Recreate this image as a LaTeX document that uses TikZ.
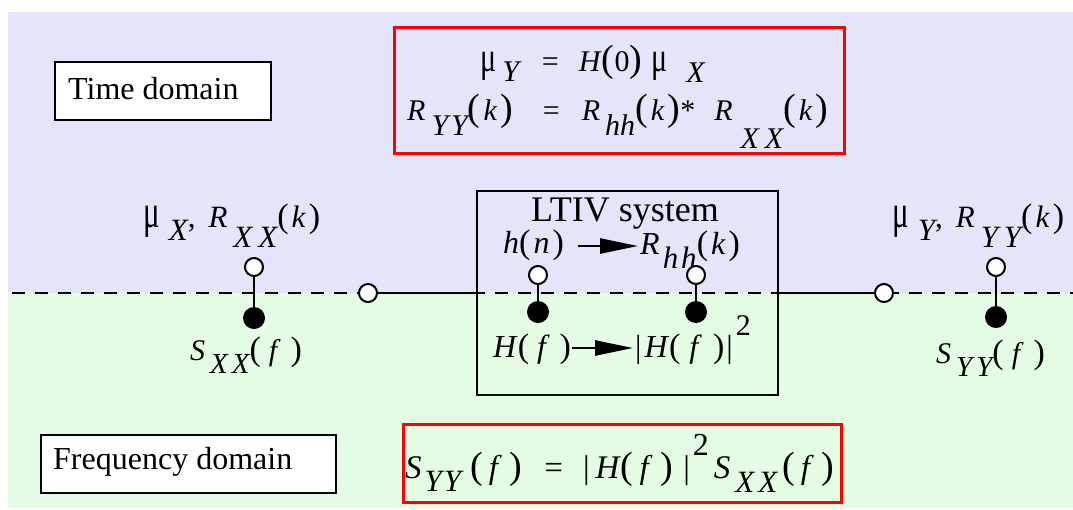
\documentclass[tikz,border=0pt]{standalone}
\usepackage{fontspec}
\usepackage{graphicx}
\setmainfont{Liberation Serif}
\usetikzlibrary{arrows.meta,calc}
\definecolor{lav}{RGB}{228,228,250}
\definecolor{lgreen}{RGB}{228,252,228}
\newcommand{\fs}[1]{\fontsize{#1}{#1}\selectfont}
\newcommand{\lsub}[3]{\raisebox{-#1pt}{\fontsize{#2}{#2}\selectfont\itshape #3}}
\newcommand{\Lp}[1]{{\fontsize{#1}{#1}\selectfont(}}
\newcommand{\Rp}[1]{{\fontsize{#1}{#1}\selectfont)}}
\newcommand{\hs}[1]{\hspace{#1pt}}
\newcommand{\mmu}[1]{\scalebox{1}[#1]{μ}}
\begin{document}
\begin{tikzpicture}[x=1pt,y=-1pt,
 box/.style={draw=black, line width=2.5pt, fill=white, inner sep=0pt},
 redbox/.style={draw=red, line width=3pt, inner sep=0pt},
 sysbox/.style={draw=black, line width=2.5pt, inner sep=0pt},
 lbl/.style={inner sep=0pt, anchor=base west},
 opn/.style={circle, draw, line width=2pt, fill=white, minimum size=18pt, inner sep=0pt},
 fil/.style={circle, fill=black, minimum size=22pt, inner sep=0pt},
 wire/.style={line width=2.5pt},
 stem/.style={line width=2pt},
 arr/.style={line width=2.5pt, -{Triangle[length=38pt,width=15pt]}}
]
\useasboundingbox (0,0) rectangle (1073,509);
\fill[white] (0,0) rectangle (1073,509);
\fill[lav] (8,12) rectangle (1073,293);
\fill[lgreen] (8,293) rectangle (1073,508);
\draw[dash pattern=on 13pt off 10pt, line width=1.5pt] (12,293) -- (1073,293);

% domain boxes
\node[box, minimum width=216pt, minimum height=58pt] (tdbox) at (163,91) {};
\node[lbl] (tdtext) at (68,99) {\fs{32}Time domain};
\node[box, minimum width=295pt, minimum height=58pt] (fdbox) at (188.5,464) {};
\node[lbl] (fdtext) at (53,469) {\fs{32}Frequency domain};

% red formula boxes
\node[redbox, minimum width=450pt, minimum height=126pt] (eqbox) at (619,90) {};
\node[lbl] (eq1) at (480,71) {\fs{30}\mmu{1.4}\hs{6}\lsub{10}{30}{Y}\hs{23}=\hs{20}\textit{H}\Lp{38}0\Rp{38}\hs{9}\mmu{1.4}\hs{19}\lsub{11}{30}{X}};
\node[lbl] (eq2) at (407,120) {\fs{30}\textit{R}\hs{6}\lsub{15}{30}{Y\hs{3}Y}\Lp{38}\hs{3}\textit{k}\hs{3}\Rp{38}\hs{30}=\hs{22}\textit{R}\hs{5}\lsub{15}{30}{hh}\Lp{38}\hs{3}\textit{k}\hs{3}\Rp{38}*\hs{19}\textit{R}\hs{8}\lsub{28}{30}{X\hs{6}X}\Lp{38}\hs{3}\textit{k}\hs{3}\Rp{38}};
\node[redbox, minimum width=438pt, minimum height=78pt] (eqfbox) at (622,463) {};
\node[lbl] (eq3) at (405,478) {\fs{33}\textit{S}\hs{3}\lsub{13}{31}{Y\hs{2}Y}\hs{9}\Lp{38}\hs{6}\textit{f}\hs{8}\Rp{38}\hs{22}=\hs{20}|\hs{6}\textit{H}\Lp{38}\hs{6}\textit{f}\hs{8}\Rp{38}\hs{10}|\hs{3}\raisebox{23pt}{\fs{32}2}\hs{5}\textit{S}\hs{5}\lsub{14}{31}{X\hs{4}X}\hs{5}\Lp{38}\hs{6}\textit{f}\hs{8}\Rp{38}};

% system box
\node[sysbox, minimum width=301pt, minimum height=204pt] (sys) at (627.5,293) {};
\node[inner sep=0pt, anchor=base] (systitle) at (625,221) {\fs{36}LTIV system};
\node[lbl] (hn) at (503,253) {\fs{32}\textit{h}\Lp{34}\hs{3}\textit{n}\hs{3}\Rp{34}};
\node[lbl] (Rhh) at (640,254) {\fs{32}\textit{R}\hs{3}\lsub{14}{31}{h\hs{3}h}\Lp{34}\hs{3}\textit{k}\hs{3}\Rp{34}};
\draw[arr] ($(hn.base east)+(14,-7)$) -- ($(Rhh.base west)+(-2,-8)$);
\node[lbl] (Hf) at (493,357) {\fs{32}\textit{H}\Lp{34}\hs{8}\textit{f}\hs{10}\Rp{34}};
\node[lbl] (Hf2) at (635,357) {\fs{32}|\hs{3}\textit{H}\Lp{34}\hs{9}\textit{f}\hs{11}\Rp{34}\hs{2}|\hs{3}\raisebox{22pt}{\fs{30}2}};
\draw[arr] ($(Hf.base east)+(1,-9)$) -- ($(Hf2.base west)+(-2,-9)$);

% wires and ports
\node[opn] (inL) at (368,293) {};
\node[opn] (outR) at (884,293) {};
\draw[wire] (inL) -- (sys.west |- inL);
\draw[wire] (sys.east |- outR) -- (outR);

% stems
\node[opn] (xo) at (254,267) {};
\node[fil] (xf) at (254,318) {};
\draw[stem] (xo) -- (xf);
\node[opn] (ho) at (538,275) {};
\node[fil] (hf) at (538,312) {};
\draw[stem] (ho) -- (hf);
\node[opn] (ro) at (696,275) {};
\node[fil] (rf) at (696,312) {};
\draw[stem] (ro) -- (rf);
\node[opn] (yo) at (996,267) {};
\node[fil] (yf) at (996,317) {};
\draw[stem] (yo) -- (yf);

% labels
\node[lbl] (xlab) at (143,227) {\fs{31}\mmu{1.5}\hs{9}\lsub{13}{31}{X},\hs{13}\textit{R}\hs{6}\lsub{20}{31}{X\hs{6}X}\Lp{34}\hs{3}\textit{k}\hs{3}\Rp{34}};
\node[lbl] (sxlab) at (190,360) {\fs{30}\textit{S}\hs{5}\lsub{13}{29}{X\hs{4}X}\Lp{34}\hs{8}\textit{f}\hs{10}\Rp{34}};
\node[lbl] (ylab) at (892,227) {\fs{31}\mmu{1.5}\hs{9}\lsub{13}{31}{Y},\hs{13}\textit{R}\hs{6}\lsub{20}{31}{Y\hs{6}Y}\Lp{34}\hs{3}\textit{k}\hs{3}\Rp{34}};
\node[lbl] (sylab) at (936,363) {\fs{30}\textit{S}\hs{5}\lsub{13}{29}{Y\hs{4}Y}\Lp{34}\hs{8}\textit{f}\hs{10}\Rp{34}};
\end{tikzpicture}
\end{document}
